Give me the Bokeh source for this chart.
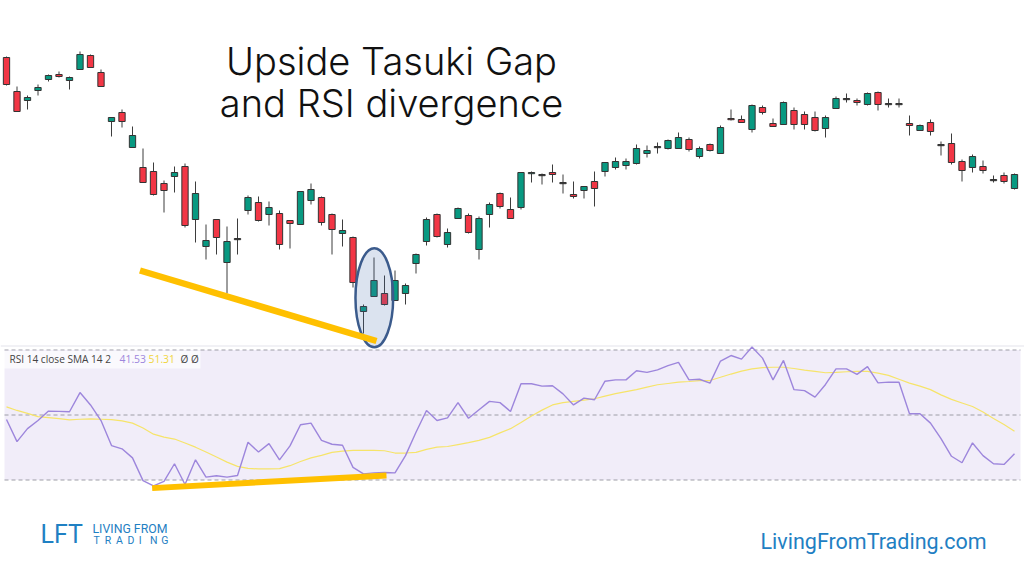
import numpy as np
from bokeh.plotting import figure
from bokeh.models import Range1d, Label
from bokeh.embed import file_html
from bokeh.resources import INLINE

# ---------------- data (arbitrary price units) ----------------
open_price = [343, 309, 300, 310, 321, 326, 320, 331, 345, 328,
              279, 288, 253, 233, 229, 217, 224, 234, 181, 154,
              181, 138, 162, 190, 198, 186, 187, 180, 176, 200,
              203, 186, 167, 163, 89, 104, 107, 100, 107, 137,
              159, 186, 156, 182, 185, 151, 186, 207, 191, 193,
              227, 226, 228, 218, 206, 210, 219, 229, 233, 235,
              237, 247, 254, 252, 252, 261, 244, 256, 247, 282,
              281, 271, 293, 277, 276, 290, 286, 283, 272, 292,
              302, 300, 296, 308, 297, 297, 277, 270, 278, 256,
              257, 239, 233, 234, 221, 225, 212]
high_price = [344, 314, 305, 316, 326, 329, 324, 349, 346, 331,
              283, 291, 274, 252, 238, 220, 234, 237, 219, 176,
              181, 174, 182, 205, 204, 199, 190, 180, 209, 217,
              204, 187, 181, 164, 96, 143, 125, 130, 117, 147,
              183, 187, 172, 193, 187, 184, 198, 208, 203, 228,
              229, 227, 236, 226, 219, 214, 229, 238, 243, 242,
              256, 255, 258, 261, 268, 263, 254, 257, 275, 291,
              285, 296, 295, 282, 299, 293, 289, 289, 285, 304,
              307, 302, 308, 309, 302, 302, 285, 276, 281, 259,
              267, 241, 246, 240, 225, 228, 227]
low_price = [315, 289, 291, 305, 319, 323, 311, 331, 333, 314,
             264, 273, 253, 218, 205, 188, 208, 173, 158, 141,
             146, 107, 146, 186, 179, 175, 151, 152, 176, 196,
             175, 146, 154, 113, 67, 104, 95, 100, 96, 127,
             155, 163, 153, 182, 167, 141, 173, 192, 182, 191,
             218, 216, 218, 207, 202, 202, 194, 224, 231, 231,
             236, 243, 247, 251, 252, 249, 242, 249, 247, 280,
             278, 268, 286, 274, 276, 271, 271, 269, 263, 292,
             298, 295, 295, 290, 293, 293, 265, 270, 265, 245,
             236, 219, 228, 227, 218, 217, 211]
close_price = [316, 289, 303, 313, 325, 324, 323, 346, 333, 314,
               283, 279, 265, 218, 206, 210, 228, 175, 207, 160,
               163, 159, 162, 203, 180, 193, 156, 177, 209, 211,
               178, 171, 170, 118, 94, 120, 96, 120, 115, 146,
               181, 164, 168, 192, 168, 182, 196, 194, 182, 228,
               228, 226, 226, 218, 204, 214, 212, 238, 239, 239,
               252, 250, 254, 260, 263, 251, 252, 250, 273, 281,
               278, 295, 288, 274, 298, 276, 276, 270, 283, 302,
               302, 298, 307, 296, 297, 297, 275, 275, 269, 256,
               238, 230, 244, 230, 221, 219, 226]

rsi_values = [48.6, 41.8, 45.8, 48.3, 51.2, 51.1, 51.0, 56.9, 53.1, 48.3,
              40.6, 39.6, 36.8, 29.8, 28.2, 29.6, 35.0, 28.6, 36.2, 30.9,
              31.3, 30.9, 31.4, 41.6, 38.6, 41.2, 36.2, 40.5, 47.0, 47.5,
              42.2, 41.0, 40.7, 33.9, 31.9, 32.2, 32.3, 32.2, 37.5, 44.7,
              51.4, 48.3, 49.1, 53.8, 49.0, 51.6, 54.2, 53.8, 51.1, 59.6,
              59.6, 58.9, 59.0, 56.5, 53.1, 55.2, 54.7, 60.4, 60.8, 60.8,
              63.6, 63.1, 63.9, 65.2, 66.2, 60.8, 61.0, 59.8, 66.6, 68.3,
              67.2, 70.9, 67.5, 60.8, 66.8, 57.8, 57.5, 55.5, 59.4, 64.2,
              64.2, 62.5, 64.9, 59.9, 60.1, 60.1, 50.4, 50.4, 47.5, 42.7,
              37.3, 35.3, 41.4, 37.5, 35.0, 34.8, 38.1]
rsi_sma_values = [52.5, 51.4, 50.5, 49.5, 49.2, 48.9, 48.5, 48.7, 48.8, 48.7,
                  48.6, 48.2, 47.5, 46.0, 44.1, 43.2, 42.6, 41.4, 40.1, 38.6,
                  37.1, 35.5, 34.2, 33.6, 33.4, 33.4, 33.5, 34.4, 35.7, 36.8,
                  37.6, 38.5, 38.9, 39.1, 39.1, 39.1, 39.0, 38.3, 38.3, 38.5,
                  39.4, 40.1, 40.3, 40.9, 41.5, 42.2, 43.1, 44.5, 45.8, 47.7,
                  49.7, 51.5, 53.1, 53.8, 54.2, 54.6, 55.0, 55.8, 56.6, 57.2,
                  57.8, 58.6, 59.3, 59.7, 60.1, 60.3, 60.6, 60.6, 61.6, 62.6,
                  63.5, 64.2, 64.6, 64.7, 64.7, 64.3, 63.8, 63.4, 63.0, 63.1,
                  63.3, 63.4, 63.4, 62.9, 62.2, 61.0, 59.8, 58.9, 57.8, 56.2,
                  54.8, 53.7, 52.6, 50.9, 48.9, 47.1, 45.0]

rsi_levels = [70, 50, 30]

# divergence annotations (bar index / price units, bar index / RSI units)
price_div_x = [13.71, 36.24]
price_div_y = [130, 59.5]
rsi_div_x = [14.87, 37.19]
rsi_div_y = [27.5, 31.4]
gap_ellipse_x = [36.03]
gap_ellipse_y = [102.8]
gap_ellipse_w = [3.59]
gap_ellipse_h = [99]

legend_parts = ["RSI 14 close SMA 14 2", "41.53", "51.31", "\u00d8  \u00d8"]

# ---------------- figure ----------------
BAR_PX = 10.5
x_start = 1 - 6 / BAR_PX
p = figure(width=1024, height=576,
           x_range=Range1d(x_start, x_start + 1024 / BAR_PX),
           y_range=Range1d(-176, 400),
           output_backend="svg", toolbar_location=None,
           x_axis_location=None, y_axis_location=None,
           min_border=0, outline_line_color=None,
           background_fill_color="white", border_fill_color="white")
p.grid.visible = False
p.extra_y_ranges = {"rsi": Range1d(50 - 161.5 / 3.25, 50 + 414.5 / 3.25)}

idx = np.arange(1, len(close_price) + 1)
o = np.array(open_price, float)
c = np.array(close_price, float)
h = np.array(high_price, float)
l = np.array(low_price, float)
top = np.maximum(o, c)
bot = np.minimum(o, c)
bot = np.where(top - bot < 1.2, top - 1.2, bot)
colors = np.where(c > o, "#089981", np.where(c < o, "#f23645", "#333333"))

# RSI pane
pane_l, pane_r = 1 - 2 / BAR_PX, 1 + 1014 / BAR_PX
p.quad(left=[pane_l], right=[pane_r], bottom=[30], top=[70], y_range_name="rsi",
       fill_color="#f1edf9", line_color=None)
p.segment(x0=[x_start], y0=[71.2], x1=[x_start + 1024 / BAR_PX], y1=[71.2], y_range_name="rsi",
          line_color="#ededf2", line_width=1.5)
p.segment(x0=[pane_l] * 3, y0=rsi_levels, x1=[pane_r] * 3, y1=rsi_levels, y_range_name="rsi",
          line_color="#9d9da6", line_width=1, line_dash="4 3")
p.quad(left=[1 - 3 / BAR_PX], right=[1 + 194 / BAR_PX], bottom=[64.3], top=[69.8], y_range_name="rsi",
       fill_color="white", fill_alpha=0.65, line_color=None)

# candles
p.segment(x0=idx, y0=h, x1=idx, y1=l, line_color="#3d3d3d", line_width=1)
p.vbar(x=idx, top=top, bottom=bot, width=0.6, fill_color=colors, line_color="#333333", line_width=1)

# ellipse around the gap
p.ellipse(x=gap_ellipse_x, y=gap_ellipse_y, width=gap_ellipse_w, height=gap_ellipse_h,
          fill_color="#4a72b0", fill_alpha=0.2, line_color="#3b5b8c", line_width=2.5)

# price divergence line
p.line(price_div_x, price_div_y, line_color="#ffc000", line_width=6.5, line_cap="butt")

# RSI lines
p.line(idx, rsi_sma_values, y_range_name="rsi", line_color="#f6e46a", line_width=1.2)
p.line(idx, rsi_values, y_range_name="rsi", line_color="#9d86dc", line_width=1.4)
p.line(rsi_div_x, rsi_div_y, y_range_name="rsi", line_color="#ffc000", line_width=6, line_cap="butt")

# ---------------- texts ----------------
H = 576
def add_label(x, y_px, text, font, size, color, align="left", baseline="alphabetic"):
    p.add_layout(Label(x=x, y=H - y_px, x_units="screen", y_units="screen", text=text,
                       text_font=font, text_font_size=size, text_color=color,
                       text_align=align, text_baseline=baseline))

add_label(391, 60, "Upside Tasuki Gap", "Inter Light, Inter", "38px", "#111111", "center")
add_label(391, 102, "and RSI divergence", "Inter Light, Inter", "38px", "#111111", "center")

legend_x = [9, 119, 148, 180]
legend_colors = ["#444444", "#9d86dc", "#f0d53c", "#444444"]
legend_sizes = ["10.1px", "10.4px", "10.4px", "10px"]
for lx, txt, col, sz in zip(legend_x, legend_parts, legend_colors, legend_sizes):
    add_label(lx, 358.5, txt, "Open Sans", sz, col, "left", "middle")

blue = "#1f80c3"
add_label(40, 534, "LFT", "Roboto", "25px", blue)
add_label(92, 528, "LIVING FROM", "Roboto", "12.3px", blue)
for i, ch in enumerate("TRADING"):
    add_label(93 + i * 11.3, 540, ch, "Roboto", "10.5px", blue)
add_label(760, 540.5, "LivingFromTrading.com", "Roboto", "21.5px", blue)

open("out.html", "w").write(file_html(p, INLINE))
